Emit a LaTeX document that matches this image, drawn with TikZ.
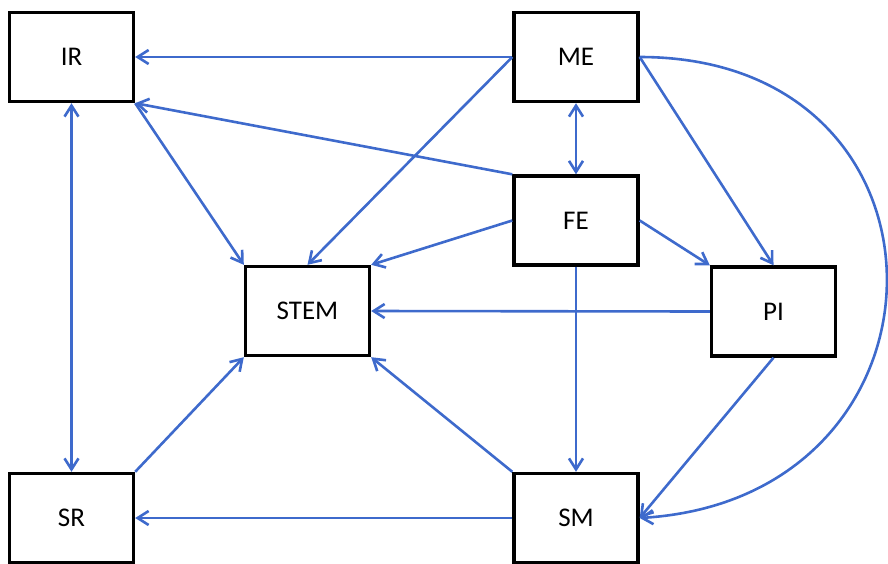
\documentclass[tikz,border=0pt]{standalone}
\usepackage{fontspec}
\setmainfont{Carlito}
\usetikzlibrary{arrows.meta}
\definecolor{linkblue}{RGB}{62,106,204}

\begin{document}
\begin{tikzpicture}[x=0.5pt,y=-0.5pt,
	box/.style={draw,line width=1.7pt,minimum width=62pt,minimum height=44.5pt,inner sep=0pt,font=\fontsize{13.5pt}{16pt}\selectfont},
	link/.style={draw=linkblue,line width=1.3pt,-{Straight Barb[length=5.5pt,width=7pt]}},
	both/.style={link,{Straight Barb[length=5.5pt,width=7pt]}-{Straight Barb[length=5.5pt,width=7pt]}}]
	\useasboundingbox (0,0) rectangle (888,563);
	\node [box] (IR) at (71.5,57) {IR};
	\node [box] (ME) at (576,57) {ME};
	\node [box] (FE) at (576,220.5) {FE};
	\node [box] (STEM) at (307.5,311) {STEM};
	\node [box] (PI) at (773.5,311.5) {PI};
	\node [box] (SR) at (71.5,518) {SR};
	\node [box] (SM) at (576,518) {SM};
	\draw [link] (ME.west) -- (IR.east);
	\draw [link] (ME.west) -- (STEM.north);
	\draw [link] (FE.north west) -- (IR.south east);
	\draw [link] (IR.south east) -- (STEM.north west);
	\draw [both] (ME.south) -- (FE.north);
	\draw [link] (ME.east) -- (PI.north);
	\draw [link] (ME.east) .. controls +(331,0) and +(327,-20) .. (SM.east);
	\draw [link] (FE.west) -- (STEM.north east);
	\draw [link] (FE.east) -- (PI.north west);
	\draw [link] (FE.south) -- (SM.north);
	\draw [link] (PI.west) -- (STEM.east);
	\draw [link] (PI.south) -- (SM.east);
	\draw [link] (SM.north west) -- (STEM.south east);
	\draw [link] (SM.west) -- (SR.east);
	\draw [link] (SR.north east) -- (STEM.south west);
	\draw [both] (IR.south) -- (SR.north);
\end{tikzpicture}
\end{document}
